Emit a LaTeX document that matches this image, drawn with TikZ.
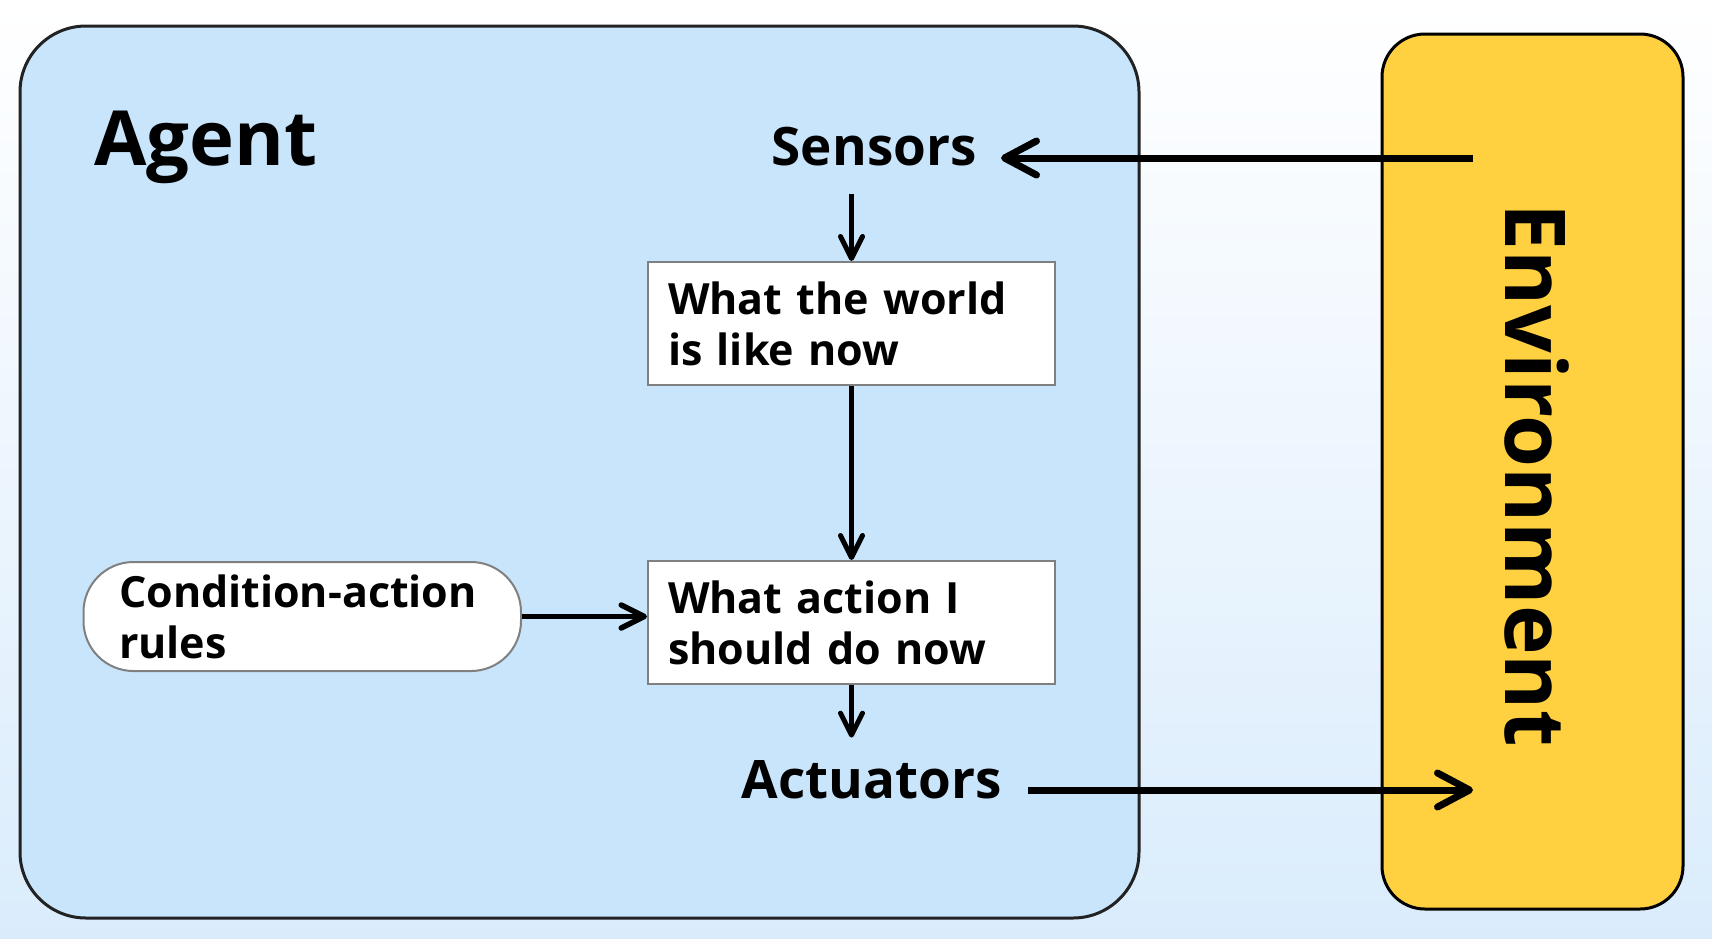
\documentclass[tikz,border=0pt]{standalone}
\usepackage{fontspec}
\setmainfont{Open Sans}
\usetikzlibrary{arrows.meta,calc}
\definecolor{agentblue}{RGB}{200,229,252}
\definecolor{envyellow}{RGB}{255,209,64}
\definecolor{bgblue}{RGB}{218,236,252}
\definecolor{agentline}{RGB}{34,34,34}
\begin{document}
\begin{tikzpicture}[x=0.5pt,y=-0.5pt,
  agentbox/.style={draw=agentline, line width=1.5pt, fill=agentblue, rounded corners=33pt, inner sep=0pt},
  envbox/.style={draw=black, line width=1.5pt, fill=envyellow, rounded corners=21.5pt, inner sep=0pt},
  stepbox/.style={draw=gray, line width=1pt, fill=white, align=left,
    font=\bfseries\fontsize{21.5}{25.5}\selectfont, text width=183.5pt, inner xsep=10pt,
    minimum width=203.5pt, minimum height=61.5pt},
  rulebox/.style={draw=gray, line width=1pt, fill=white, align=left, rounded corners=25pt,
    font=\bfseries\fontsize{21.5}{25.5}\selectfont, text width=183.25pt, inner xsep=17.75pt,
    minimum width=218.75pt, minimum height=54.5pt},
  biglabel/.style={font=\bfseries\fontsize{26.5}{30}\selectfont},
  smallarrow/.style={-{Straight Barb[length=11pt,width=11pt,round]}, line width=2.5pt},
  midarrow/.style={-{Straight Barb[length=11.5pt,width=11.5pt,round]}, line width=2.75pt},
  bigarrow/.style={-{Straight Barb[length=16pt,width=17pt,round]}, line width=3.5pt}
]
\useasboundingbox (0,0) rectangle (1712,938);
\shade[top color=white, middle color=white, bottom color=bgblue] (0,0) rectangle (1712,938);

\node[agentbox, minimum width=559.5pt, minimum height=446pt] (agent) at (579.5,472) {};
\node[envbox, minimum width=150.5pt, minimum height=437.5pt] (env) at (1532.5,471.5) {};

\node[anchor=base west, inner sep=0pt, font=\bfseries\fontsize{38}{40}\selectfont] (agentlabel) at (94,165) {Agent};
\node[rotate=-90, anchor=base west, inner sep=0pt, font=\bfseries\fontsize{42}{44}\selectfont] (envlabel) at (1505,203) {Environment};

\node[biglabel, anchor=base east, inner xsep=12pt, inner ysep=14pt] (sensors) at (1001,165) {Sensors};
\node[biglabel, anchor=base east, inner xsep=13pt, inner ysep=11pt] (actuators) at (1028,798) {Actuators};

\node[stepbox] (world) at (851.5,323.5) {What the world\\is like now};
\node[stepbox] (action) at (851.5,622.5) {What action I\\should do now};
\node[rulebox] (rules) at (302.25,616.5) {Condition-action\\rules};

\coordinate (envin) at (1473,158);
\coordinate (envout) at (1473,790);

\draw[bigarrow] (envin) -- (envin -| sensors.east);
\draw[bigarrow] (actuators.east |- envout) -- (envout);
\draw[smallarrow] (sensors.south -| world.north) -- (world.north);
\draw[smallarrow] (world.south) -- (action.north);
\draw[smallarrow] (action.south) -- (action.south |- actuators.north);
\draw[midarrow] (rules.east) -- (rules.east -| action.west);
\end{tikzpicture}
\end{document}
